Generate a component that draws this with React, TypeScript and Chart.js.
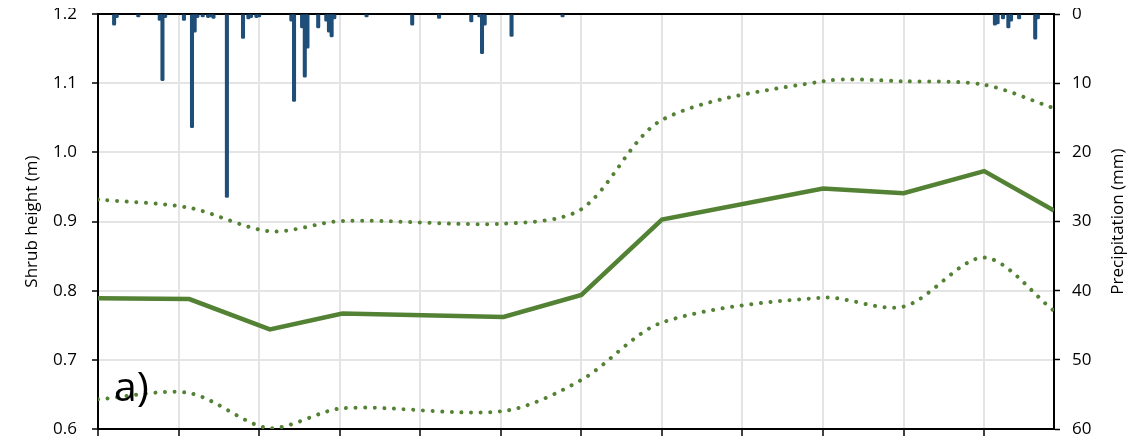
import React, { useEffect, useRef } from 'react';
import { Chart, registerables } from 'chart.js';

Chart.register(...registerables);

// Sampling days (days since start of record) for the shrub-height series
const sampleDays = [0, 34, 64, 91, 151, 180, 210, 270, 300, 330, 356];
const heightMean = [0.789, 0.788, 0.744, 0.767, 0.762, 0.794, 0.903, 0.948, 0.941, 0.973, 0.916];
const heightUpper = [0.932, 0.92, 0.886, 0.901, 0.897, 0.918, 1.047, 1.103, 1.103, 1.098, 1.064];
const heightLower = [0.643, 0.652, 0.601, 0.63, 0.626, 0.671, 0.754, 0.79, 0.777, 0.848, 0.771];

// Daily precipitation (mm)
const precipDays = [6, 7, 15, 23, 24, 25, 32, 35, 36, 37, 39, 41, 42, 43, 48, 54, 56, 57, 59, 60, 72, 73, 76, 77, 78, 82, 85, 86, 87, 88, 100, 117, 127, 139, 142, 143, 144, 154, 173, 334, 335, 337, 339, 340, 343, 349, 350];
const precipMm = [1.6, 0.5, 0.4, 0.9, 9.6, 0.5, 0.9, 16.4, 2.6, 0.5, 0.4, 0.5, 0.4, 0.6, 26.5, 3.5, 0.7, 0.5, 0.5, 0.4, 1.0, 12.6, 2.0, 9.1, 4.9, 2.0, 1.0, 2.6, 3.3, 0.7, 0.4, 1.6, 0.6, 1.1, 0.4, 5.7, 1.6, 3.2, 0.4, 1.6, 1.4, 0.7, 2.0, 1.0, 0.7, 3.6, 0.7];

const xMax = 356;
const xStep = 30;
const heightTicks = [0.6, 0.7, 0.8, 0.9, 1.0, 1.1, 1.2];
const precipTicks = [0, 10, 20, 30, 40, 50, 60];

const leftTitle = 'Shrub height (m)';
const rightTitle = 'Precipitation (mm)';
const panelLabel = 'a)';

const GREEN = '#548235';
const BLUE = '#1F4E79';
const GRID = '#e4e4e4';
const FONT = '"Open Sans", sans-serif';

export default function App() {
  const ref = useRef<HTMLCanvasElement | null>(null);

  useEffect(() => {
    if (!ref.current) return;
    const toXY = (xs: number[], ys: number[]) => xs.map((x, i) => ({ x, y: ys[i] }));

    const textPlugin = {
      id: 'extraText',
      afterDraw(chart: any) {
        const { ctx, chartArea } = chart;
        ctx.save();
        ctx.fillStyle = '#000';
        ctx.font = `17px ${FONT}`;
        ctx.textAlign = 'center';
        ctx.textBaseline = 'middle';
        const cy = (chartArea.top + chartArea.bottom) / 2;
        ctx.save();
        ctx.translate(24, cy);
        ctx.rotate(-Math.PI / 2);
        ctx.fillText(leftTitle, 0, 0);
        ctx.restore();
        ctx.save();
        ctx.translate(chartArea.right + 64, cy);
        ctx.rotate(-Math.PI / 2);
        ctx.fillText(rightTitle, 0, 0);
        ctx.restore();
        ctx.font = `41px ${FONT}`;
        ctx.textAlign = 'left';
        ctx.textBaseline = 'alphabetic';
        ctx.fillText(panelLabel, chartArea.left + 16, chartArea.bottom - 28);
        ctx.restore();
      },
    };

    const chart = new Chart(ref.current, {
      type: 'bar',
      data: {
        datasets: [
          {
            type: 'line',
            data: toXY(sampleDays, heightMean),
            borderColor: GREEN,
            borderWidth: 4.5,
            pointRadius: 0,
            tension: 0,
            yAxisID: 'y',
            order: 1,
          },
          {
            type: 'line',
            data: toXY(sampleDays, heightUpper),
            borderColor: GREEN,
            borderWidth: 4,
            borderDash: [0.01, 9.6],
            borderCapStyle: 'round',
            pointRadius: 0,
            tension: 0.3,
            yAxisID: 'y',
            order: 2,
          },
          {
            type: 'line',
            data: toXY(sampleDays, heightLower),
            borderColor: GREEN,
            borderWidth: 4,
            borderDash: [0.01, 9.6],
            borderCapStyle: 'round',
            pointRadius: 0,
            tension: 0.3,
            yAxisID: 'y',
            order: 3,
          },
          {
            type: 'bar',
            data: toXY(precipDays, precipMm),
            backgroundColor: BLUE,
            barThickness: 3.4,
            borderRadius: 1.5,
            borderSkipped: 'start',
            yAxisID: 'y2',
            order: 4,
          },
        ] as any,
      },
      options: {
        animation: false,
        responsive: true,
        maintainAspectRatio: false,
        layout: { padding: 0 },
        plugins: { legend: { display: false }, tooltip: { enabled: false } },
        scales: {
          x: {
            type: 'linear',
            offset: false,
            min: 0,
            max: xMax,
            ticks: { stepSize: xStep, callback: () => '' },
            afterBuildTicks: (s: any) => {
              s.ticks = s.ticks.filter((t: any) => t.value % xStep === 0 && t.value < xMax);
            },
            afterFit: (s: any) => {
              s.height = 40;
            },
            grid: { offset: false, color: GRID, lineWidth: 2, tickColor: '#000', tickLength: 7, tickWidth: 1.5 },
            border: { color: '#000', width: 2 },
          },
          y: {
            type: 'linear',
            position: 'left',
            min: 0.6,
            max: 1.2,
            afterBuildTicks: (s: any) => {
              s.ticks = heightTicks.map((v) => ({ value: v }));
            },
            ticks: {
              callback: (v: any) => Number(v).toFixed(1),
              font: { family: FONT, size: 17 },
              color: '#000',
              padding: 15,
            },
            afterFit: (s: any) => {
              s.width = 90;
            },
            grid: {
              color: (c: any) => (c.tick && c.tick.value >= 1.1999 ? '#000' : GRID),
              lineWidth: 2,
              tickColor: '#000',
              tickLength: 6,
              tickWidth: 1.5,
            },
            border: { color: '#000', width: 2 },
          },
          y2: {
            type: 'linear',
            position: 'right',
            reverse: true,
            min: 0,
            max: 60,
            afterBuildTicks: (s: any) => {
              s.ticks = precipTicks.map((v) => ({ value: v }));
            },
            ticks: {
              font: { family: FONT, size: 17 },
              color: '#000',
              padding: 12,
            },
            afterFit: (s: any) => {
              s.width = 80;
            },
            grid: { drawOnChartArea: false, tickColor: '#000', tickLength: 6, tickWidth: 1.5 },
            border: { color: '#000', width: 2 },
          },
        },
      } as any,
      plugins: [textPlugin],
    });
    return () => chart.destroy();
  }, []);

  return (
    <div style={{ position: 'relative', top: -19, width: 1126, height: 480 }}>
      <canvas ref={ref} />
    </div>
  );
}
